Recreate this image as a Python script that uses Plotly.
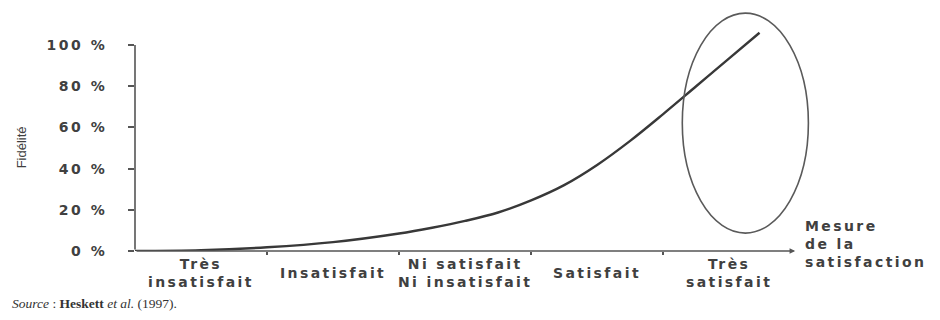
import plotly.graph_objects as go

# ---- data ----
categories = ["Très<br>insatisfait", "Insatisfait", "Ni satisfait<br>Ni insatisfait",
              "Satisfait", "Très<br>satisfait"]
curve_x = [0, 0.5, 1, 1.5, 2, 2.25, 2.5, 2.75, 3, 3.25, 3.5, 3.75, 4, 4.25, 4.5, 4.73]
curve_y = [0, 0.4, 1.8, 4.3, 8.5, 11.3, 14.6, 18.7, 24.6, 32, 41.8, 53.5, 66.5, 80, 93.5, 106]
y_tickvals = [0, 20, 40, 60, 80, 100]
y_ticktext = ["0 %", "20 %", "40 %", "60 %", "80 %", "100 %"]
y_title = "Fidélité"
x_title = "Mesure<br>de la<br>satisfaction"
source = "<i>Source</i> : <b>Heskett</b> <i>et al.</i> (1997)."
highlight = dict(x0=4.145, x1=5.1, y0=8.7, y1=115.5)  # "Très satisfait" zone

TXT = "#404040"
SANS = "DejaVu Sans"
LS = "letter-spacing:2.4px"


def spaced(t):
    return "<br>".join(f"<span style='{LS}'>{p}</span>" for p in t.split("<br>"))


fig = go.Figure()
fig.add_trace(go.Scatter(
    x=curve_x, y=curve_y, mode="lines",
    line=dict(color="#383838", width=2.4, shape="spline", smoothing=1.0),
    hoverinfo="skip", showlegend=False,
))

n = len(categories)

fig.update_layout(
    width=932, height=312,
    margin=dict(l=127, r=92, t=0, b=69),
    paper_bgcolor="white", plot_bgcolor="white",
    xaxis=dict(range=[0, 5.4], showgrid=False, zeroline=False, showline=False,
               tickvals=list(range(1, n)), ticks="outside", ticklen=3, tickwidth=1.5,
               tickcolor="#555", showticklabels=False, fixedrange=True),
    yaxis=dict(range=[0, 118], showgrid=False, zeroline=False, showline=False,
               tickvals=y_tickvals,
               ticktext=[f"<span style='letter-spacing:2.5px'>{t}</span>" for t in y_ticktext],
               ticks="outside", ticklen=6, tickwidth=1.5, tickcolor="#555",
               ticklabelstandoff=18,
               tickfont=dict(family=SANS, size=14, color=TXT, weight="bold"),
               fixedrange=True),
)

# axes lines (x with arrow head)
fig.add_annotation(x=n, y=0, ax=0, ay=0, xref="x", yref="y", axref="x", ayref="y",
                   text="", showarrow=True, arrowhead=2, arrowsize=0.7,
                   arrowwidth=1.6, arrowcolor="#555")
fig.add_annotation(x=0, y=y_tickvals[-1], ax=0, ay=0, xref="x", yref="y", axref="x", ayref="y",
                   text="", showarrow=True, arrowhead=0, arrowwidth=1.6, arrowcolor="#555")

# category labels
for i, c in enumerate(categories):
    fig.add_annotation(x=i + 0.5, y=0, xref="x", yref="y", yshift=-22,
                       text=spaced(c), showarrow=False, yanchor="middle", xanchor="center",
                       align="center",
                       font=dict(family=SANS, size=14, color=TXT, weight="bold"))

# x-axis title to the right of the arrow
fig.add_annotation(x=n, y=0, xref="x", yref="y", xshift=8, yshift=7,
                   text=spaced(x_title), showarrow=False, xanchor="left", yanchor="middle",
                   align="left", font=dict(family=SANS, size=14, color=TXT, weight="bold"))

# y-axis title
fig.add_annotation(x=-0.158, y=0.428, xref="paper", yref="paper", text=y_title,
                   textangle=-90, showarrow=False, xanchor="center", yanchor="middle",
                   font=dict(family="Liberation Sans", size=13, color=TXT))

# source
fig.add_annotation(x=-0.176, y=-0.215, xref="paper", yref="paper", text=source,
                   showarrow=False, xanchor="left", yanchor="middle",
                   font=dict(family="Liberation Serif", size=13.5, color="#333"))

# highlight ellipse
fig.add_shape(type="circle", xref="x", yref="y", **highlight,
              line=dict(color="#5a5a5a", width=1.6))

fig.write_html("out.html")
